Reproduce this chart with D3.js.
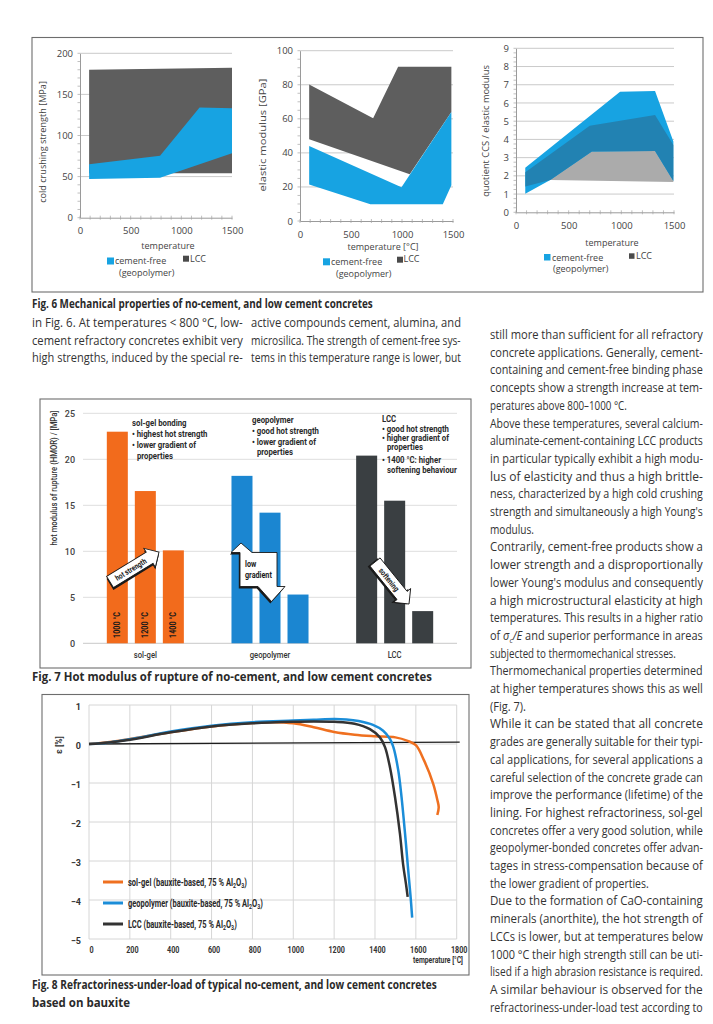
<!DOCTYPE html>
<html><head><meta charset="utf-8">
<script src="https://cdn.jsdelivr.net/npm/d3@7"></script>
<style>
html,body{margin:0;padding:0;background:#fff;}
svg{display:block;}
</style></head><body>
<svg id="page" width="713" height="1024"></svg>
<script>
// ================= DATA =================
// Fig. 6 – ranges as [temperature °C, value]
const tempTicks6 = [0, 500, 1000, 1500];
const ccsTicks = [0, 50, 100, 150, 200];
const ccsCementFreeUpper = [[90, 65], [790, 75.5], [1180, 134], [1500, 133]];
const ccsCementFreeLower = [[90, 47], [790, 48.5], [1500, 78.5]];
const ccsLCCUpper = [[90, 180], [1500, 182.5]];
const ccsLCCLower = [[90, 54], [1500, 54]];

const emTicks = [0, 20, 40, 60, 80, 100];
const emCementFreeUpper = [[90, 44], [995, 19.8], [1484, 64]];
const emCementFreeLower = [[90, 21.5], [690, 9.8], [1400, 9.8], [1484, 21]];
const emLCCUpper = [[90, 80.2], [717, 60.3], [962, 90.6], [1484, 90.6]];
const emLCCLower = [[90, 48], [1076, 27.4], [1484, 64]];

const qTicks = [0, 1, 2, 3, 4, 5, 6, 7, 8, 9];
const qCementFreeUpper = [[88, 2.45], [988, 6.62], [1320, 6.66], [1494, 3.88]];
const qCementFreeLower = [[88, 1.02], [325, 1.77], [720, 3.33], [1320, 3.37], [1494, 1.72]];
const qLCCUpper = [[88, 2.2], [700, 4.75], [1320, 5.34], [1494, 3.7]];
const qLCCLower = [[88, 1.42], [325, 1.77], [1494, 1.66]];

// Fig. 7 – hot modulus of rupture (MPa)
const hmorGroups = ["sol-gel", "geopolymer", "LCC"];
const hmorTemps = ["1000 °C", "1200 °C", "1400 °C"];
const hmorSolGel = [23.0, 16.55, 10.1];
const hmorGeopolymer = [18.2, 14.2, 5.3];
const hmorLCC = [20.4, 15.5, 3.5];
const hmorTicks = [0, 5, 10, 15, 20, 25];
const notesSolGel = ["sol-gel bonding", "• highest hot strength", "• lower gradient of", "properties"];
const notesGeo = ["geopolymer", "• good hot strength", "• lower gradient of", "properties"];
const notesLCC = ["LCC", "• good hot strength", "• higher gradient of", "properties", "• 1400 °C: higher", "softening behaviour"];

// Fig. 8 – refractoriness under load, [temperature °C, ε %]
const rulTicksX = [0, 200, 400, 600, 800, 1000, 1200, 1400, 1600, 1800];
const rulTicksY = [1, 0, -1, -2, -3, -4, -5];
const rulSolGel = [[0,0],[100,0.05],[200,0.13],[400,0.3],[600,0.45],[800,0.54],[900,0.56],[1000,0.53],[1100,0.43],[1200,0.31],[1300,0.24],[1400,0.2],[1500,0.17],[1560,0.08],[1600,-0.03],[1640,-0.42],[1685,-1.02],[1706,-1.45],[1712,-1.62],[1705,-1.82]];
const rulGeopolymer = [[0,0],[100,0.04],[200,0.12],[400,0.32],[600,0.47],[800,0.56],[1000,0.6],[1100,0.62],[1200,0.64],[1260,0.63],[1320,0.59],[1390,0.49],[1440,0.34],[1473,0.13],[1490,-0.08],[1514,-0.68],[1530,-1.36],[1547,-2.29],[1562,-3.2],[1574,-3.9],[1582,-4.45]];
const rulLCC = [[0,0],[100,0.04],[200,0.11],[400,0.3],[600,0.45],[800,0.53],[1000,0.57],[1100,0.58],[1200,0.57],[1300,0.52],[1375,0.38],[1424,0.17],[1449,-0.08],[1473,-0.59],[1498,-1.36],[1522,-2.29],[1538,-3.1],[1552,-3.6],[1560,-3.92]];
const rulLegend = ["sol-gel (bauxite-based, 75 % Al", "geopolymer (bauxite-based,  75 % Al", "LCC (bauxite-based, 75 % Al"];

// Text
const caption6 = "Fig. 6 Mechanical properties of no-cement, and low cement concretes";
const caption7 = "Fig. 7 Hot modulus of rupture of no-cement, and low cement concretes";
const caption8 = ["Fig. 8 Refractoriness-under-load of typical no-cement, and low cement concretes", "based on bauxite"];
const col1Lines = ["in Fig. 6. At temperatures < 800 °C, low-", "cement refractory concretes exhibit very", "high strengths, induced by the special re-"];
const col2Lines = ["active compounds cement, alumina, and", "microsilica. The strength of cement-free sys-", "tems in this temperature range is lower, but"];
const col3Lines = [
"still more than sufficient for all refractory",
"concrete applications. Generally, cement-",
"containing and cement-free binding phase",
"concepts show a strength increase at tem-",
"peratures above 800–1000 °C.",
"Above these temperatures, several calcium-",
"aluminate-cement-containing LCC products",
"in particular typically exhibit a high modu-",
"lus of elasticity and thus a high brittle-",
"ness, characterized by a high cold crushing",
"strength and simultaneously a high Young's",
"modulus.",
"Contrarily, cement-free products show a",
"lower strength and a disproportionally",
"lower Young's modulus and consequently",
"a high microstructural elasticity at high",
"temperatures. This results in a higher ratio",
"of σc/E and superior performance in areas",
"subjected to thermomechanical stresses.",
"Thermomechanical properties determined",
"at higher temperatures shows this as well",
"(Fig. 7).",
"While it can be stated that all concrete",
"grades are generally suitable for their typi-",
"cal applications, for several applications a",
"careful selection of the concrete grade can",
"improve the performance (lifetime) of the",
"lining. For highest refractoriness, sol-gel",
"concretes offer a very good solution, while",
"geopolymer-bonded concretes offer advan-",
"tages in stress-compensation because of",
"the lower gradient of properties.",
"Due to the formation of CaO-containing",
"minerals (anorthite), the hot strength of",
"LCCs is lower, but at temperatures below",
"1000 °C their high strength still can be uti-",
"lised if a high abrasion resistance is required.",
"A similar behaviour is observed for the",
"refractoriness-under-load test according to"];
const col3ShortWidths = {4: 137, 11: 44, 18: 186, 21: 36, 31: 159};

// ================= DRAW =================
const svg = d3.select('#page');
svg.append('rect').attr('width', 713).attr('height', 1024).attr('fill', '#fff');
const SANS = '"Open Sans", "Noto Sans", sans-serif';
const COND = 'Roboto, "Liberation Sans", sans-serif';
const TXT = '#333';

function place(t, x, y, o) {
  const w = t.node().getComputedTextLength();
  let sc = 1;
  if (o.width && w > 0) sc = o.width / w;
  else if (o.cond) sc = o.cond;
  t.attr('transform', `translate(${x},${y})${o.rotate ? ` rotate(${o.rotate})` : ''} scale(${sc.toFixed(4)},1)`);
  return t;
}
function txt(g, s, x, y, o = {}) {
  const t = g.append('text')
    .attr('font-family', o.family || SANS).attr('font-size', o.size || 12)
    .attr('font-weight', o.weight || 400).attr('fill', o.fill || TXT)
    .attr('text-anchor', o.anchor || 'start').text(s);
  return place(t, x, y, o);
}
function squeezeAxisText(sel, f) {
  sel.each(function () { d3.select(this).attr('transform', `scale(${f},1)`); });
}

// ---------- Fig. 6 ----------
svg.append('rect').attr('x', 32).attr('y', 37.5).attr('width', 671).attr('height', 254.5)
  .attr('fill', 'none').attr('stroke', '#6d6d6d').attr('stroke-width', 1.1);

const BLUE6 = '#17a3e2', GRAY6 = '#5e5e5e', LGRAY6 = '#ababab', TEAL6 = '#2282b2';
const panels6 = [
  { xr: [80, 232], yr: [217.7, 53.3], ymax: 200, yticks: ccsTicks, minor: 10, cf: [ccsCementFreeUpper, ccsCementFreeLower], lcc: [ccsLCCUpper, ccsLCCLower], mode: 'stack',
    ylabel: 'cold crushing strength [MPa]', ylx: 46, yly: 142, yll: 122, xlabel: 'temperature', xlx: 168, xly: 249,
    leg: { bx: 107, by: 257.5, bs: 7, t1x: 115, t1y: 264, t2x: 119, t2y: 276, lx: 183, ly: 255.7, ls: 6, ltx: 190, lty: 262 } },
  { xr: [300, 453], yr: [221, 50.7], ymax: 100, yticks: emTicks, minor: 5, cf: [emCementFreeUpper, emCementFreeLower], lcc: [emLCCUpper, emLCCLower], mode: 'stack',
    ylabel: 'elastic modulus  [GPa]', ylx: 266, yly: 135, yll: 113, xlabel: 'temperature [°C]', xlx: 383, xly: 250,
    leg: { bx: 323, by: 258.3, bs: 7, t1x: 331, t1y: 264.5, t2x: 336, t2y: 277, lx: 397, ly: 256.7, ls: 6, ltx: 403.5, lty: 262 } },
  { xr: [516, 674], yr: [212.3, 48.3], ymax: 9, yticks: qTicks, minor: 0.25, cf: [qCementFreeUpper, qCementFreeLower], lcc: [qLCCUpper, qLCCLower], mode: 'overlap',
    ylabel: 'quotient  CCS / elastic modulus', ylx: 489, yly: 131, yll: 132, xlabel: 'temperature', xlx: 612, xly: 246,
    leg: { bx: 544, by: 254, bs: 6.5, t1x: 552, t1y: 260.5, t2x: 553, t2y: 272, lx: 629, ly: 253.3, ls: 5.5, ltx: 636, lty: 259 } }
];

panels6.forEach((p, i) => {
  const x = d3.scaleLinear().domain([0, 1500]).range(p.xr);
  const y = d3.scaleLinear().domain([0, p.ymax]).range(p.yr);
  const g = svg.append('g');
  g.selectAll('line.grid').data(p.yticks.filter(d => d > 0)).join('line')
    .attr('x1', x(0)).attr('x2', x(1500)).attr('y1', d => y(d)).attr('y2', d => y(d))
    .attr('stroke', '#c4c4c4').attr('stroke-width', 0.9);
  const line = d3.line().x(d => x(d[0])).y(d => y(d[1]));
  const poly = (u, l) => line(u.concat(l.slice().reverse())) + 'Z';
  const lccPath = poly(p.lcc[0], p.lcc[1]);
  const cfPath = poly(p.cf[0], p.cf[1]);
  if (p.mode === 'stack') {
    g.append('path').attr('d', lccPath).attr('fill', GRAY6);
    g.append('path').attr('d', cfPath).attr('fill', BLUE6);
  } else {
    g.append('path').attr('d', lccPath).attr('fill', LGRAY6);
    g.append('path').attr('d', cfPath).attr('fill', BLUE6);
    svg.append('clipPath').attr('id', 'cfclip' + i).append('path').attr('d', cfPath);
    g.append('path').attr('d', lccPath).attr('fill', TEAL6).attr('clip-path', `url(#cfclip${i})`);
  }
  const ax = g.append('g').attr('transform', `translate(${x(0)},0)`)
    .call(d3.axisLeft(y).tickValues(p.yticks).tickSize(0).tickPadding(7).tickFormat(d3.format('d')));
  ax.select('.domain').attr('stroke', '#9a9a9a');
  ax.selectAll('text').attr('font-family', SANS).attr('font-size', 9.5).attr('fill', '#444');
  const minorY = d3.range(0, p.ymax + 1e-9, p.minor);
  g.selectAll('line.my').data(minorY).join('line')
    .attr('x1', x(0) - 2.5).attr('x2', x(0)).attr('y1', d => y(d)).attr('y2', d => y(d))
    .attr('stroke', '#a5a5a5').attr('stroke-width', 0.7);
  const bx = g.append('g').attr('transform', `translate(0,${y(0)})`)
    .call(d3.axisBottom(x).tickValues(tempTicks6).tickSize(0).tickPadding(10).tickFormat(d3.format('d')));
  bx.select('.domain').attr('stroke', '#9a9a9a');
  bx.selectAll('text').attr('font-family', SANS).attr('font-size', 9.5).attr('fill', '#444');
  g.selectAll('line.mx').data(d3.range(0, 1501, 100)).join('line')
    .attr('x1', d => x(d)).attr('x2', d => x(d)).attr('y1', y(0) - 2).attr('y2', y(0) + 2)
    .attr('stroke', '#a5a5a5').attr('stroke-width', 0.7);
  txt(g, p.ylabel, p.ylx, p.yly, { size: 9.5, anchor: 'middle', width: p.yll, rotate: -90, fill: '#444' });
  txt(g, p.xlabel, p.xlx, p.xly, { size: 9, anchor: 'middle', fill: '#444' });
  const L = p.leg;
  g.append('rect').attr('x', L.bx).attr('y', L.by).attr('width', L.bs).attr('height', L.bs).attr('fill', BLUE6);
  txt(g, 'cement-free', L.t1x, L.t1y, { size: 9, fill: '#444' });
  txt(g, '(geopolymer)', L.t2x, L.t2y, { size: 9, fill: '#444' });
  g.append('rect').attr('x', L.lx).attr('y', L.ly).attr('width', L.ls).attr('height', L.ls).attr('fill', '#4a4a4a');
  txt(g, 'LCC', L.ltx, L.lty, { size: 9, fill: '#444' });
});

txt(svg, caption6, 32, 307.5, { size: 12, weight: 700, width: 341, fill: '#2a2a2a' });

// ---------- body text under Fig. 6 ----------
col1Lines.forEach((s, i) => txt(svg, s, 32, 327 + i * 17.6, { size: 12, width: 211 }));
col2Lines.forEach((s, i) => txt(svg, s, 251, 327 + i * 17.6, { size: 12, width: 210 }));

// ---------- right column ----------
col3Lines.forEach((s, i) => {
  const yy = 339 + i * 17.7;
  const w = col3ShortWidths[i] || 213;
  if (i === 17) {
    const t = svg.append('text').attr('font-family', SANS).attr('font-size', 12).attr('fill', TXT);
    t.append('tspan').text('of ');
    t.append('tspan').attr('font-style', 'italic').text('σ');
    t.append('tspan').attr('font-style', 'italic').attr('font-size', 8).attr('dy', 3).text('c');
    t.append('tspan').attr('font-style', 'italic').attr('dy', -3).text('/E');
    t.append('tspan').text(' and superior performance in areas');
    place(t, 490, yy, { width: w });
  } else {
    txt(svg, s, 490, yy, { size: 12, width: w });
  }
});

// ---------- Fig. 7 ----------
svg.append('rect').attr('x', 40).attr('y', 399).attr('width', 431).attr('height', 269)
  .attr('fill', 'none').attr('stroke', '#6d6d6d').attr('stroke-width', 1.1);
{
  const g = svg.append('g');
  const y = d3.scaleLinear().domain([0, 25]).range([643.3, 413.3]);
  const xg = d3.scaleBand().domain(hmorGroups).range([83, 457]).padding(0);
  const xi = d3.scaleBand().domain(hmorTemps).range([0, xg.bandwidth()]).paddingInner(0.25).paddingOuter(0.85);
  const colors = { 'sol-gel': '#f26b1c', 'geopolymer': '#1b86d1', 'LCC': '#3a3f42' };
  const values = { 'sol-gel': hmorSolGel, 'geopolymer': hmorGeopolymer, 'LCC': hmorLCC };
  g.selectAll('line.grid').data(hmorTicks).join('line')
    .attr('x1', 83).attr('x2', 457).attr('y1', d => y(d)).attr('y2', d => y(d))
    .attr('stroke', d => d === 0 ? '#c8c8c8' : '#dedede').attr('stroke-width', 1);
  const ya = g.append('g').attr('transform', 'translate(83,0)')
    .call(d3.axisLeft(y).tickValues(hmorTicks).tickSize(0).tickPadding(8));
  ya.select('.domain').remove();
  ya.selectAll('text').attr('font-family', COND).attr('font-size', 9).attr('font-weight', 500).attr('fill', '#444');
  txt(g, 'hot modulus of rupture (HMOR) / [MPa]', 57, 478, { family: COND, size: 9, weight: 500, anchor: 'middle', width: 135, rotate: -90, fill: '#333' });
  hmorGroups.forEach(grp => {
    const gg = g.append('g').attr('transform', `translate(${xg(grp)},0)`);
    gg.selectAll('rect').data(values[grp].map((v, k) => ({ t: hmorTemps[k], v }))).join('rect')
      .attr('x', d => xi(d.t)).attr('width', xi.bandwidth())
      .attr('y', d => y(d.v)).attr('height', d => y(0) - y(d.v)).attr('fill', colors[grp]);
    txt(g, grp, xg(grp) + xg.bandwidth() / 2, 658, { family: COND, size: 9, weight: 500, anchor: 'middle', cond: 0.85, fill: '#333' });
    if (grp === 'sol-gel') {
      hmorTemps.forEach(t => {
        const cx = xg(grp) + xi(t) + xi.bandwidth() / 2 + 3;
        txt(g, t, cx, 625, { family: COND, size: 8.5, weight: 700, anchor: 'middle', cond: 0.85, rotate: -90, fill: '#1a1a1a' });
      });
    }
  });
  const notes = (arr, x0, y0, dyArr) => {
    let yy = y0;
    arr.forEach((s, k) => {
      const indent = s.startsWith('•') || k === 0 ? 0 : 5;
      txt(g, s, x0 + indent, yy, { family: COND, size: 9.5, weight: 700, cond: 0.82, fill: '#2a2a2a' });
      yy += dyArr[k] || 10.7;
    });
  };
  notes(notesSolGel, 132, 426, [11, 11, 11]);
  notes(notesGeo, 252, 423, [10.5, 11, 10.5]);
  notes(notesLCC, 382, 421.5, [10, 9.5, 9.2, 12.5, 10]);

  function blockArrow(x1, y1, x2, y2, bw, hw, hl, label) {
    const dx = x2 - x1, dy = y2 - y1, len = Math.hypot(dx, dy), ang = Math.atan2(dy, dx) * 180 / Math.PI;
    const a = g.append('g').attr('transform', `translate(${x1},${y1}) rotate(${ang})`);
    const pts = [[0, -bw], [len - hl, -bw], [len - hl, -hw], [len, 0], [len - hl, hw], [len - hl, bw], [0, bw]];
    a.append('path').attr('d', 'M' + pts.map(q => [q[0] - 1.2, q[1] + 2]).join('L') + 'Z').attr('fill', '#1a1a1a');
    a.append('path').attr('d', 'M' + pts.join('L') + 'Z').attr('fill', '#fff').attr('stroke', '#1a1a1a').attr('stroke-width', 0.9);
    txt(a, label, (len - hl) / 2 + 1, 3, { family: COND, size: 8, weight: 700, anchor: 'middle', cond: 0.8, fill: '#1a1a1a' });
  }
  blockArrow(110, 582, 159, 552, 6.5, 11, 11, 'hot strength');
  blockArrow(375, 562, 409, 604, 6.5, 11, 11, 'softening');
  const lg = 'M241,543 L252,552.5 L277,552.5 L277,586.5 L285,586.5 L271.5,601.5 L258,586.5 L240,586.5 L240,552.5 L231,552.5 Z';
  g.append('path').attr('d', lg).attr('transform', 'translate(-1.2,2)').attr('fill', '#1a1a1a');
  g.append('path').attr('d', lg).attr('fill', '#fff').attr('stroke', '#1a1a1a').attr('stroke-width', 0.9);
  txt(g, 'low', 245, 567, { family: COND, size: 8.5, weight: 700, cond: 0.85, fill: '#1a1a1a' });
  txt(g, 'gradient', 245, 577.5, { family: COND, size: 8.5, weight: 700, cond: 0.85, fill: '#1a1a1a' });
}
txt(svg, caption7, 32, 680.5, { size: 12, weight: 700, width: 400, fill: '#2a2a2a' });

// ---------- Fig. 8 ----------
svg.append('rect').attr('x', 42).attr('y', 694.5).attr('width', 427).attr('height', 280.5)
  .attr('fill', 'none').attr('stroke', '#6d6d6d').attr('stroke-width', 1.1);
{
  const g = svg.append('g');
  const x = d3.scaleLinear().domain([0, 1800]).range([89, 456.7]);
  const y = d3.scaleLinear().domain([-5, 1]).range([939, 705]);
  g.selectAll('line.gx').data(rulTicksX).join('line')
    .attr('x1', d => x(d)).attr('x2', d => x(d)).attr('y1', y(1)).attr('y2', y(-5))
    .attr('stroke', '#d6d6d6').attr('stroke-width', 1);
  g.selectAll('line.gy').data(rulTicksY).join('line')
    .attr('x1', x(0)).attr('x2', x(1800)).attr('y1', d => y(d)).attr('y2', d => y(d))
    .attr('stroke', '#d6d6d6').attr('stroke-width', 1);
  g.append('line').attr('x1', x(0)).attr('x2', x(1800) + 3).attr('y1', y(0)).attr('y2', y(0.05))
    .attr('stroke', '#1e1e1e').attr('stroke-width', 1.3);
  const ya = g.append('g').attr('transform', `translate(${x(0)},0)`)
    .call(d3.axisLeft(y).tickValues(rulTicksY).tickSize(0).tickPadding(8).tickFormat(d3.format('d')));
  ya.select('.domain').remove();
  ya.selectAll('text').attr('font-family', COND).attr('font-size', 9).attr('font-weight', 700).attr('fill', '#333').attr('dy', '0.5em');
  const xa = g.append('g').attr('transform', `translate(2,${y(-5)})`)
    .call(d3.axisBottom(x).tickValues(rulTicksX).tickSize(0).tickPadding(8).tickFormat(d3.format('d')));
  xa.select('.domain').remove();
  xa.selectAll('text').attr('font-family', COND).attr('font-size', 9).attr('font-weight', 700).attr('fill', '#333');
  squeezeAxisText(xa.selectAll('text'), 0.8);
  txt(g, 'temperature [°C]', 463, 963, { family: COND, size: 8.5, weight: 700, anchor: 'end', cond: 0.8, fill: '#333' });
  txt(g, 'ε [%]', 62, 745, { family: COND, size: 8.5, weight: 700, anchor: 'middle', rotate: -90, fill: '#333' });

  const line = d3.line().x(d => x(d[0])).y(d => y(d[1])).curve(d3.curveCatmullRom.alpha(0.5));
  const series = [[rulSolGel, '#ef7020'], [rulGeopolymer, '#1b8dd8'], [rulLCC, '#333333']];
  series.forEach(([d, c]) => g.append('path').attr('d', line(d)).attr('fill', 'none').attr('stroke', c).attr('stroke-width', 2.5).attr('stroke-linejoin', 'round'));
  const legY = [882, 903, 924];
  const legW = [119, 135, 109];
  series.forEach(([d, c], k) => {
    g.append('line').attr('x1', 103).attr('x2', 123).attr('y1', legY[k]).attr('y2', legY[k]).attr('stroke', c).attr('stroke-width', 3);
    const t = g.append('text').attr('font-family', COND).attr('font-size', 10)
      .attr('font-weight', 700).attr('fill', '#2a2a2a');
    t.append('tspan').text(rulLegend[k]);
    t.append('tspan').attr('font-size', 7).attr('dy', 2).text('2');
    t.append('tspan').attr('dy', -2).text('O');
    t.append('tspan').attr('font-size', 7).attr('dy', 2).text('3');
    t.append('tspan').attr('dy', -2).text(')');
    place(t, 128, legY[k] + 3.5, { width: legW[k] });
  });
}
txt(svg, caption8[0], 32, 989, { size: 12, weight: 700, width: 405, fill: '#2a2a2a' });
txt(svg, caption8[1], 32, 1007, { size: 12, weight: 700, width: 98, fill: '#2a2a2a' });
</script>
</body></html>
